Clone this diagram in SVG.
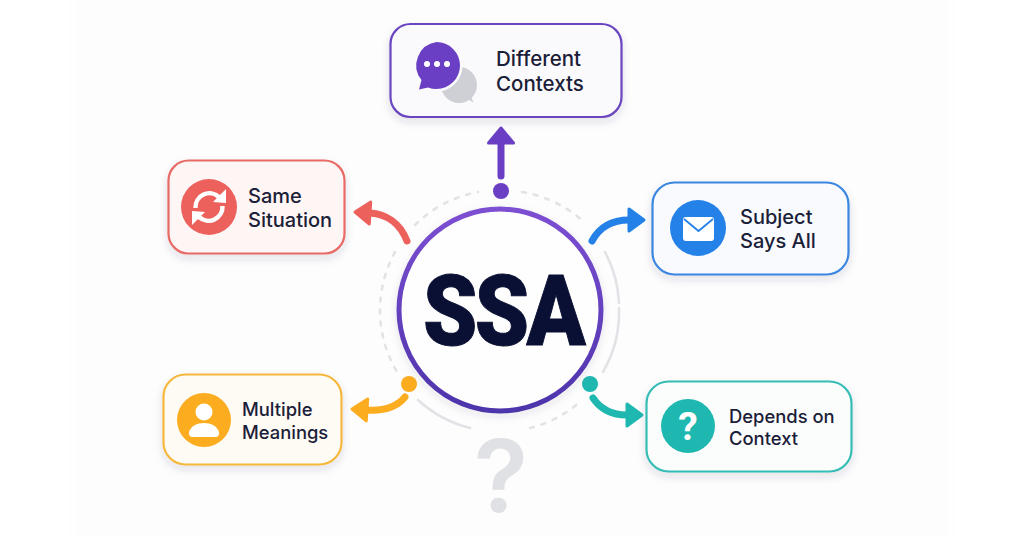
<svg xmlns="http://www.w3.org/2000/svg" width="1024" height="536" viewBox="0 0 1024 536">
<style>
.card{stroke-width:2.200;filter:url(#cardShadow)}
.lbl{font-family:"Inter","Liberation Sans",sans-serif;font-size:20.500px;font-weight:500;fill:#1b2038}
.lbl2{font-size:20px}
.lbl3{font-size:18.400px}
.conn{fill:none;stroke-width:7;stroke-linecap:round}
.ring{fill:none;stroke:#e2e3e6;stroke-width:2.600;stroke-linecap:round}
.dash{stroke-dasharray:4 8}
.wht{fill:#fff}
.wline{fill:none;stroke:#fff;stroke-width:4.500}
</style>
<defs>
<filter id="panelBlur" x="-5%" y="-5%" width="110%" height="110%"><feGaussianBlur stdDeviation="10"/></filter>
<filter id="cardShadow" x="-15%" y="-20%" width="130%" height="150%"><feDropShadow dx="0" dy="4" stdDeviation="4" flood-color="#3a3a55" flood-opacity=".13"/></filter>
<filter id="soft" x="-15%" y="-15%" width="130%" height="130%"><feDropShadow dx="0" dy="3" stdDeviation="4" flood-color="#3a3a55" flood-opacity=".1"/></filter>
<linearGradient id="ringGrad" x1="0" y1="0" x2="0" y2="1"><stop offset="0" stop-color="#7d4fd2"/><stop offset="1" stop-color="#4d34ab"/></linearGradient>
<marker id="hPurple" markerUnits="userSpaceOnUse" markerWidth="24" markerHeight="34" viewBox="-2 -17 24 34" refX="0" refY="0" orient="auto"><path d="M0-12.500 15 0 0 12.500Z" fill="#6a3fc4" stroke="#6a3fc4" stroke-width="3" stroke-linejoin="round"/></marker>
<marker id="hRed" markerUnits="userSpaceOnUse" markerWidth="24" markerHeight="34" viewBox="-2 -17 24 34" refX="0" refY="0" orient="auto"><path d="M0-11 15 0 0 11Z" fill="#ec615c" stroke="#ec615c" stroke-width="3" stroke-linejoin="round"/></marker>
<marker id="hBlue" markerUnits="userSpaceOnUse" markerWidth="24" markerHeight="34" viewBox="-2 -17 24 34" refX="0" refY="0" orient="auto"><path d="M0-11 15 0 0 11Z" fill="#2481e8" stroke="#2481e8" stroke-width="3" stroke-linejoin="round"/></marker>
<marker id="hOrange" markerUnits="userSpaceOnUse" markerWidth="24" markerHeight="34" viewBox="-2 -17 24 34" refX="0" refY="0" orient="auto"><path d="M0-11 15 0 0 11Z" fill="#fbac1f" stroke="#fbac1f" stroke-width="3" stroke-linejoin="round"/></marker>
<marker id="hTeal" markerUnits="userSpaceOnUse" markerWidth="24" markerHeight="34" viewBox="-2 -17 24 34" refX="0" refY="0" orient="auto"><path d="M0-11 15 0 0 11Z" fill="#1fb8b0" stroke="#1fb8b0" stroke-width="3" stroke-linejoin="round"/></marker>
</defs>
<rect width="1024" height="536" fill="#fff"/>
<rect x="72" y="-30" width="880" height="596" fill="#fdfdfd" filter="url(#panelBlur)"/>

<g id="ring">
<path class="ring dash" d="M415 225A120 120 0 0 1 478 192"/>
<path class="ring dash" d="M522 192A120 120 0 0 1 585 223"/>
<path class="ring" d="M605 252A120 120 0 0 1 619 303"/>
<path class="ring" d="M619 308A120 120 0 0 1 603 372"/>
<path class="ring dash" d="M395 252A121 121 0 0 0 397 372"/>
<path class="ring" d="M418 400A121 121 0 0 0 470 428"/>
<path class="ring dash" d="M530 428A120 120 0 0 0 582 400"/>
<text x="501" y="512" text-anchor="middle" font-family="Inter,'Liberation Sans',sans-serif" font-size="100" font-weight="600" fill="#e0e1e4">?</text>
</g>

<g id="connectors">
<path class="conn" d="M501 176V143" stroke="#6a3fc4" marker-end="url(#hPurple)"/>
<path class="conn" d="M407 241C400 223 386 214 370 213" stroke="#ec615c" marker-end="url(#hRed)"/>
<path class="conn" d="M592 241C600 226 612 220 629 220" stroke="#2481e8" marker-end="url(#hBlue)"/>
<path class="conn" d="M405 397C396 408 382 411 367 410" stroke="#fbac1f" marker-end="url(#hOrange)"/>
<path class="conn" d="M593 398C601 410 612 415 627 415" stroke="#1fb8b0" marker-end="url(#hTeal)"/>
<circle cx="501" cy="191" r="8" fill="#6a3fc4"/>
<circle cx="409" cy="384" r="8" fill="#fbac1f"/>
<circle cx="590" cy="384" r="8" fill="#1fb8b0"/>
</g>

<g id="node-ssa">
<circle cx="500" cy="310" r="101" fill="#fefefe" stroke="url(#ringGrad)" stroke-width="5" filter="url(#soft)"/>
<text x="423" y="345" textLength="160" lengthAdjust="spacingAndGlyphs" letter-spacing="-3" font-family="Roboto,'Liberation Sans',sans-serif" font-size="98" font-weight="900" fill="#0a1033" stroke="#0a1033" stroke-width="1">SSA</text>
</g>

<g id="node-different-contexts">
<rect class="card" x="390.500" y="24" width="231" height="93" rx="20" fill="#fafafc" stroke="#6a45c0"/>
<circle cx="459" cy="85" r="18" fill="#cfd0d5"/>
<path d="M463 96l11 7-6-12Z" fill="#cfd0d5"/>
<path d="M436.500 42a23.500 23.500 0 0 1 0 47q-4.500 0-8.500-1.500l-9 2 2.500-9.500a23.500 23.500 0 0 1 15-38Z" fill="#6a3fc4" stroke="#fafafc" stroke-width="5" paint-order="stroke"/>
<circle class="wht" cx="427" cy="64" r="3"/><circle class="wht" cx="437" cy="64" r="3"/><circle class="wht" cx="447" cy="64" r="3"/>
<text class="lbl" x="496" y="66">Different</text>
<text class="lbl" x="496" y="91">Contexts</text>
</g>

<g id="node-same-situation">
<rect class="card" x="168.500" y="160.500" width="176" height="93" rx="20" fill="#fef6f5" stroke="#e86a66"/>
<circle cx="209" cy="207" r="28" fill="#ec615c"/>
<path class="wline" d="M195.500 208A14 14 0 0 1 219 197"/>
<path class="wht" d="M213 202 226 189 226 203Z"/>
<path class="wline" d="M222.500 206A14 14 0 0 1 199 217"/>
<path class="wht" d="M205 212 192 225 192 211Z"/>
<text class="lbl lbl2" x="248" y="203">Same</text>
<text class="lbl lbl2" x="248" y="227">Situation</text>
</g>

<g id="node-subject-says-all">
<rect class="card" x="652.500" y="182.500" width="196" height="92" rx="22" fill="#f8fafe" stroke="#3a86e0"/>
<circle cx="698" cy="228" r="28" fill="#2481e8"/>
<rect class="wht" x="683" y="217" width="31" height="24" rx="3"/>
<path d="M684 219 698.500 231 713 219" fill="none" stroke="#2481e8" stroke-width="1.800"/>
<text class="lbl lbl2" x="740" y="224">Subject</text>
<text class="lbl lbl2" x="740" y="248">Says All</text>
</g>

<g id="node-multiple-meanings">
<rect class="card" x="163.500" y="374.500" width="178" height="90" rx="22" fill="#fefaf4" stroke="#f6b73c"/>
<circle cx="204" cy="420" r="27" fill="#fbac1f"/>
<circle class="wht" cx="204" cy="412" r="8.500"/>
<path class="wht" d="M191 437a5 5 0 0 1-2-5c2-6 8-9 15-9s13 3 15 9a5 5 0 0 1-2 5Z"/>
<text class="lbl lbl3" x="242" y="416">Multiple</text>
<text class="lbl lbl3" x="242" y="439">Meanings</text>
</g>

<g id="node-depends-on-context">
<rect class="card" x="646.500" y="381.500" width="205" height="90" rx="22" fill="#fbfdfd" stroke="#35bdb5"/>
<circle cx="688" cy="426" r="27" fill="#1fb8b0"/>
<text x="688" y="440" text-anchor="middle" font-family="Roboto,'Liberation Sans',sans-serif" font-size="39" font-weight="700" fill="#fff">?</text>
<text class="lbl lbl3" x="729" y="423">Depends on</text>
<text class="lbl lbl3" x="729" y="445">Context</text>
</g>
</svg>
